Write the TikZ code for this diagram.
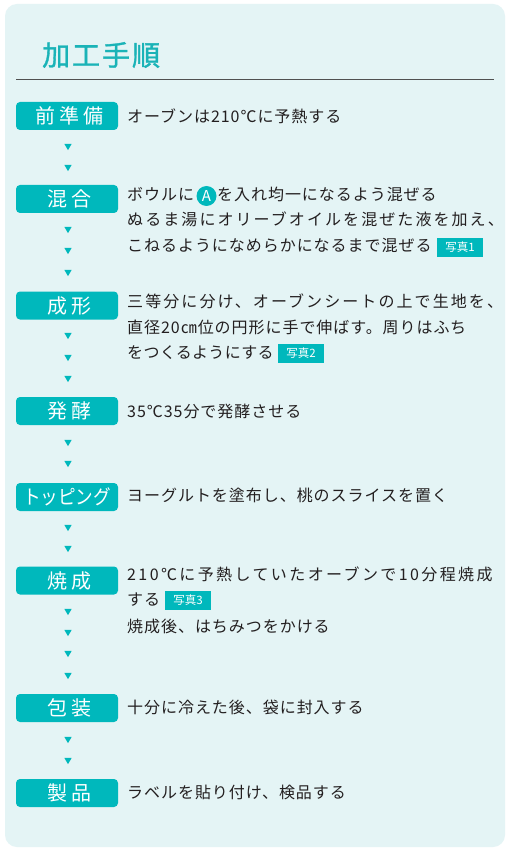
\documentclass[tikz,border=0pt]{standalone}
\usepackage{fontspec}
\newfontfamily\jp[LetterSpace=6]{Noto Sans CJK JP}
\newfontfamily\jpnarrow[LetterSpace=2]{Noto Sans CJK JP}
\newfontfamily\jpwide[LetterSpace=13]{Noto Sans CJK JP}
\newfontfamily\jpwider[LetterSpace=15]{Noto Sans CJK JP}
\newfontfamily\jplab[LetterSpace=20]{Noto Sans CJK JP}
\newfontfamily\jpn{Noto Sans CJK JP}
\newfontfamily\jptitle[LetterSpace=7,FakeBold=1.2]{Noto Sans CJK JP}
\definecolor{bgc}{HTML}{E4F4F5}
\definecolor{tealc}{HTML}{00B8BC}
\definecolor{titlec}{HTML}{1AB3B7}
\definecolor{txtc}{HTML}{231F20}
\definecolor{rulec}{HTML}{505050}
\begin{document}
\begin{tikzpicture}[x=1pt,y=-1pt,
  labelbox/.style={fill=tealc,rounded corners=4pt,minimum width=102pt,minimum height=28pt,inner sep=0pt,text=white,font=\jplab\fontsize{20pt}{20pt}\selectfont},
  txt/.style={anchor=west,inner sep=0pt,text=txtc,font=\jp\fontsize{16pt}{17pt}\selectfont,text height=1.18em,text depth=0em},
  tag/.style={fill=tealc,minimum width=46pt,minimum height=19pt,inner sep=0pt,text=white,font=\jpn\fontsize{11.5pt}{12pt}\selectfont},
  circA/.style={circle,fill=tealc,minimum size=20pt,inner sep=0pt,text=white,font=\jpn\fontsize{15pt}{15pt}\selectfont}]
\newcommand\tri[1]{\fill[tealc] (64.3,#1-3.1) -- (71.7,#1-3.1) -- (68,#1+3.1) -- cycle;}
\useasboundingbox (0,0) rectangle (509,850);
\fill[white] (0,0) rectangle (509,850);
\fill[bgc,rounded corners=12pt] (5,4) rectangle (505,847);
\node[anchor=west,inner sep=0pt,text=titlec,font=\jptitle\fontsize{28pt}{28pt}\selectfont] (title) at (42,55) {加工手順};
\draw[rulec,line width=0.9pt] (16,79) -- (494,79);
% row 1
\node[labelbox] (l1) at (67,116) {\hspace*{4pt}前準備};
\node[txt] (t1) at (127,117) {オーブンは210℃に予熱する};
\tri{147}\tri{168}
% row 2
\node[labelbox] (l2) at (67,199) {\hspace*{4pt}混合};
\node[txt] (t2a) at (127,195) {ボウルに};
\node[circA] (cA) at (206.5,196) {A};
\node[txt] (t2b) at (217,195) {を入れ均一になるよう混ぜる};
\node[txt,font=\jpwide\fontsize{16pt}{17pt}\selectfont] (t2c) at (127,220) {ぬるま湯にオリーブオイルを混ぜた液を加え、};
\node[txt] (t2d) at (127,246) {こねるようになめらかになるまで混ぜる};
\node[tag] (p1) at (460,247.5) {写真1};
\tri{230}\tri{251}\tri{273}
% row 3
\node[labelbox] (l3) at (67,305.5) {\hspace*{4pt}成形};
\node[txt,font=\jpwide\fontsize{16pt}{17pt}\selectfont] (t3a) at (127,302) {三等分に分け、オーブンシートの上で生地を、};
\node[txt] (t3b) at (127,327.5) {直径20㎝位の円形に手で伸ばす。周りはふち};
\node[txt,font=\jpnarrow\fontsize{16pt}{17pt}\selectfont] (t3c) at (127,353) {をつくるようにする};
\node[tag] (p2) at (301,353.5) {写真2};
\tri{336}\tri{358}\tri{379}
% row 4
\node[labelbox] (l4) at (67,411) {\hspace*{4pt}発酵};
\node[txt] (t4) at (127,411.5) {35℃35分で発酵させる};
\tri{443}\tri{464}
% row 5
\node[labelbox] (l5) at (67,497) {\scalebox{0.88}[1]{\jpn\fontsize{20pt}{20pt}\selectfont トッピング}};
\node[txt] (t5) at (127,496) {ヨーグルトを塗布し、桃のスライスを置く};
\tri{528}\tri{549}
% row 6
\node[labelbox] (l6) at (67,580.5) {\hspace*{4pt}焼成};
\node[txt,font=\jpwider\fontsize{16pt}{17pt}\selectfont] (t6a) at (127,575) {210℃に予熱していたオーブンで10分程焼成};
\node[txt] (t6b) at (127,600) {する};
\node[tag] (p3) at (188,600) {写真3};
\node[txt] (t6c) at (127,627) {焼成後、はちみつをかける};
\tri{612}\tri{633}\tri{654}\tri{676}
% row 7
\node[labelbox] (l7) at (67,708) {\hspace*{4pt}包装};
\node[txt] (t7) at (127,708) {十分に冷えた後、袋に封入する};
\tri{740}\tri{761}
% row 8
\node[labelbox] (l8) at (67,793) {\hspace*{4pt}製品};
\node[txt] (t8) at (127,793) {ラベルを貼り付け、検品する};
\end{tikzpicture}
\end{document}
